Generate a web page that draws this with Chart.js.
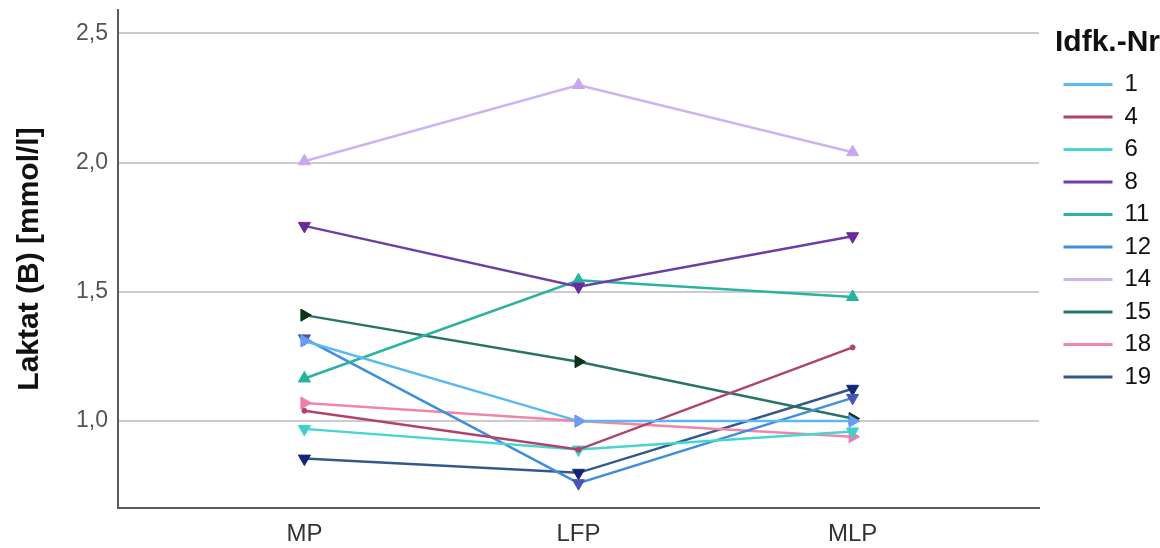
<!DOCTYPE html>
<html>
<head>
<meta charset="utf-8">
<script src="https://cdn.jsdelivr.net/npm/chart.js@4"></script>
<style>
    html, body { margin: 0; padding: 0; background: #fff; }
    #wrap { width: 1160px; height: 548px; }
</style>
</head>
<body>
<div id="wrap"><canvas id="laktatChart" width="1160" height="548"></canvas></div>
<script>
// Messzeitpunkte (x-Achse)
const categories = ['MP', 'LFP', 'MLP'];
const yTicks = [1.0, 1.5, 2.0, 2.5];

// Laktat (B) je Idfk.-Nr, Werte MP / LFP / MLP
const ids = ['1', '4', '6', '8', '11', '12', '14', '15', '18', '19'];
const werte1 = [1.31, 1.00, 1.00];
const werte4 = [1.04, 0.89, 1.285];
const werte6 = [0.97, 0.89, 0.96];
const werte8 = [1.755, 1.52, 1.715];
const werte11 = [1.165, 1.545, 1.48];
const werte12 = [1.32, 0.76, 1.09];
const werte14 = [2.005, 2.30, 2.04];
const werte15 = [1.41, 1.23, 1.01];
const werte18 = [1.07, 1.00, 0.94];
const werte19 = [0.855, 0.80, 1.125];

const serien = [werte1, werte4, werte6, werte8, werte11, werte12, werte14, werte15, werte18, werte19];
const linienFarben = ['#5ab8f5', '#b0426e', '#45d6d0', '#6e3ea8', '#2cb2a2', '#3f8ede', '#cbb4f2', '#2a7466', '#f284aa', '#33598c'];
const markerFarben = ['#6a9cf0', '#b0426e', '#40d0cc', '#6a2a9c', '#22b49c', '#4656b4', '#c8a8ea', '#0c3418', '#f27cae', '#14247a'];
const markerForm = ['triangle', 'circle', 'triangle', 'triangle', 'triangle', 'triangle', 'triangle', 'triangle', 'triangle', 'triangle'];
const markerDrehung = [90, 0, 180, 180, 0, 180, 0, 90, 90, 180];
const markerGroesse = [7, 2.5, 7, 7, 7, 7, 7, 7, 7, 7];

const fontFamily = 'Arial, "Liberation Sans", sans-serif';

const datasets = ids.map((id, i) => ({
    label: id,
    data: serien[i].map((v, k) => ({ x: k, y: v })),
    borderColor: linienFarben[i],
    backgroundColor: markerFarben[i],
    pointBorderColor: markerFarben[i],
    pointBackgroundColor: markerFarben[i],
    pointStyle: markerForm[i],
    rotation: markerDrehung[i],
    pointRadius: markerGroesse[i],
    pointBorderWidth: 1,
    borderWidth: 2.5,
    tension: 0,
    fill: false,
}));

// feste Legendenbreite und Einrückung wie im Original
const legendWidthPlugin = {
    id: 'legendWidth',
    beforeInit(chart) {
        const origFit = chart.legend.fit;
        chart.legend.fit = function () {
            origFit.call(this);
            this.width = 121;
        };
    },
    afterLayout(chart) {
        chart.legend.left += 16;
        chart.legend.right += 16;
    },
};

new Chart(document.getElementById('laktatChart').getContext('2d'), {
    type: 'line',
    data: { datasets },
    options: {
        responsive: false,
        animation: false,
        layout: { padding: { top: 10, right: 0, bottom: 0, left: 0 } },
        scales: {
            x: {
                type: 'linear',
                min: -0.68,
                max: 2.68,
                afterBuildTicks(scale) {
                    scale.ticks = categories.map((c, i) => ({ value: i }));
                },
                afterFit(scale) {
                    scale.height = 40;
                },
                grid: { display: false, drawTicks: false },
                border: { display: true, color: '#5a5a5a', width: 2 },
                ticks: {
                    padding: 12,
                    color: '#333',
                    font: { family: fontFamily, size: 24 },
                    callback(value) {
                        return categories[value] ?? '';
                    },
                },
            },
            y: {
                type: 'linear',
                min: 0.664,
                max: 2.59,
                afterBuildTicks(scale) {
                    scale.ticks = yTicks.map((v) => ({ value: v }));
                },
                afterFit(scale) {
                    scale.width = 118;
                    scale.paddingTop = 0;
                    scale.paddingBottom = 0;
                },
                grid: { color: '#cbcbcb', lineWidth: 2, drawTicks: false },
                border: { display: true, color: '#5a5a5a', width: 2 },
                ticks: {
                    padding: 10,
                    color: '#555',
                    font: { family: fontFamily, size: 23 },
                    callback(value) {
                        return value.toFixed(1).replace('.', ',');
                    },
                },
                title: {
                    display: true,
                    text: 'Laktat (B) [mmol/l]',
                    color: '#111',
                    font: { family: fontFamily, size: 30, weight: 'bold' },
                    padding: { top: 12, bottom: 0 },
                },
            },
        },
        plugins: {
            legend: {
                position: 'right',
                align: 'start',
                title: {
                    display: true,
                    text: 'Idfk.-Nr',
                    position: 'start',
                    color: '#111',
                    font: { family: fontFamily, size: 30, weight: 'bold' },
                    padding: { top: 18, bottom: 0 },
                },
                labels: {
                    boxWidth: 49,
                    boxHeight: 3,
                    padding: 8.5,
                    color: '#222',
                    font: { family: fontFamily, size: 24 },
                    generateLabels(chart) {
                        return chart.data.datasets.map((ds, i) => ({
                            text: ds.label,
                            fillStyle: ds.borderColor,
                            strokeStyle: ds.borderColor,
                            lineWidth: 0,
                            hidden: false,
                            datasetIndex: i,
                        }));
                    },
                },
            },
            tooltip: { enabled: false },
        },
    },
    plugins: [legendWidthPlugin],
});
</script>
</body>
</html>
